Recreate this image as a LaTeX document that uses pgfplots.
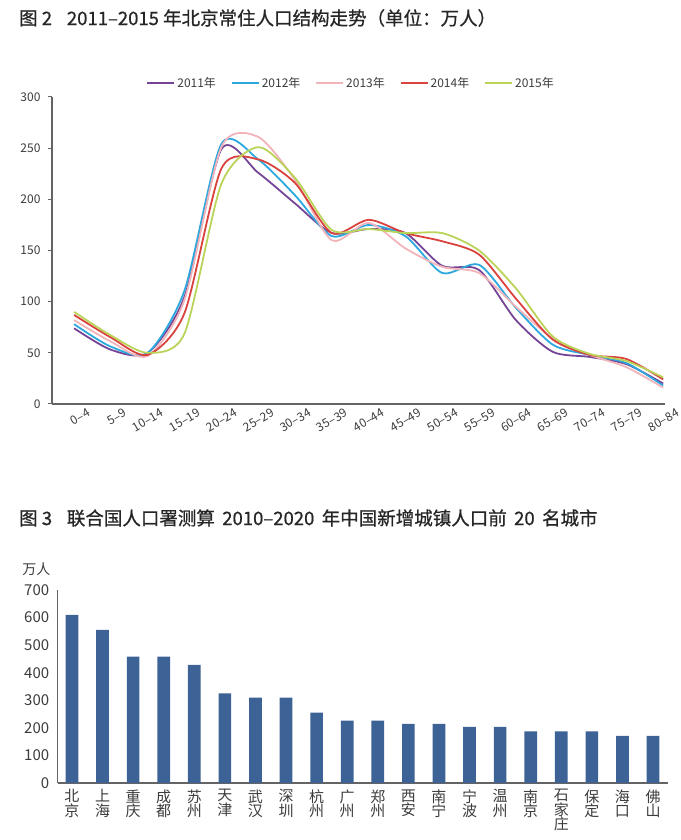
\documentclass[border=0pt]{standalone}
\usepackage{pgfplots}
\pgfplotsset{compat=1.18}
\usepackage{pgfplotstable}
\usepackage{fontspec}
\setmainfont{Noto Sans CJK SC}
\newfontfamily\titlefont[FakeBold=0.7]{Noto Sans CJK SC}

\definecolor{c11}{RGB}{118,68,150}
\definecolor{c12}{RGB}{45,168,222}
\definecolor{c13}{RGB}{240,180,186}
\definecolor{c14}{RGB}{218,66,62}
\definecolor{c15}{RGB}{186,212,90}
\definecolor{barblue}{RGB}{60,98,150}
\definecolor{axisgray}{RGB}{100,100,100}
\definecolor{txt}{RGB}{60,60,60}

% age group index, 2011 ... 2015 (10k persons)
\pgfplotstableread{
x  a   b   c   d   e
0  74  78  82  87  90
1  53  56  61  65  67
2  50  50  47  48  50
3  105 111 102 89  69
4  249 254 251 230 215
5  226 239 261 239 251
6  196 204 219 216 221
7  167 164 160 167 170
8  171 175 177 180 171
9  167 164 152 167 167
10 135 128 134 159 167
11 131 136 128 146 150
12 82  94  95  103 113
13 51  58  64  63  66
14 46  48  48  48  49
15 39  40  36  44  42
16 20  18  16  24  26
}\agedata

\pgfplotstableread{
x  v
0  610
1  555
2  458
3  458
4  428
5  325
6  310
7  310
8  255
9  226
10 226
11 214
12 214
13 204
14 204
15 187
16 187
17 187
18 171
19 171
}\citydata

\begin{document}
\begin{tikzpicture}[x=1pt,y=1pt]
\path (0,0) rectangle (675,840);

\node[anchor=west, inner sep=0pt, font=\fontsize{18.5}{20}\titlefont, text=black!85]
  at (19,822) {图 2\hspace{0.8em}2011–2015 年北京常住人口结构走势（单位：万人）};
\node[anchor=west, inner sep=0pt, font=\fontsize{18.5}{20}\titlefont, text=black!85]
  at (19,322) {图 3\hspace{0.8em}联合国人口署测算\hspace{0.4em}2010–2020\hspace{0.4em}年中国新增城镇人口前\hspace{0.4em}20\hspace{0.4em}名城市};

\begin{axis}[
    at={(52pt,436pt)}, anchor=south west,
    scale only axis, width=613pt, height=307pt,
    xmin=-0.6, xmax=16.05, ymin=0, ymax=300,
    axis x line=bottom, axis y line=left,
    axis line style={-, draw=axisgray, line width=1.2pt},
    xtick={0,...,16},
    xticklabels={0–4,5–9,10–14,15–19,20–24,25–29,30–34,35–39,40–44,45–49,50–54,55–59,60–64,65–69,70–74,75–79,80–84},
    ytick={0,50,...,300},
    tick align=outside, major tick length=4pt,
    xtick style={draw=none},
    ytick style={draw=axisgray, line width=1pt},
    tick label style={font=\fontsize{12}{12}\selectfont, text=txt},
    yticklabel style={xshift=-4pt},
    xticklabel style={rotate=30, anchor=north east, inner sep=0pt, xshift=11pt, yshift=-6pt},
    /pgf/number format/assume math mode=true,
    legend columns=5,
    legend style={at={(axis description cs:0.488,1.046)}, anchor=center, draw=none,
        font=\fontsize{12}{12}\selectfont, text=txt,
        /tikz/every even column/.append style={column sep=13pt}},
    legend image code/.code={\draw[#1] (0pt,0pt) -- (27pt,0pt);},
    every axis plot/.append style={line width=1.8pt, smooth, tension=0.45, no markers},
]
\addplot[c11] table[x=x,y=a] {\agedata}; \addlegendentry{2011年}
\addplot[c12] table[x=x,y=b] {\agedata}; \addlegendentry{2012年}
\addplot[c13] table[x=x,y=c] {\agedata}; \addlegendentry{2013年}
\addplot[c14] table[x=x,y=d] {\agedata}; \addlegendentry{2014年}
\addplot[c15] table[x=x,y=e] {\agedata}; \addlegendentry{2015年}
\end{axis}

\begin{axis}[
    at={(57.7pt,57pt)}, anchor=south west,
    scale only axis, width=610pt, height=193pt,
    xmin=-0.467, xmax=19.48, ymin=0, ymax=700,
    axis x line=bottom, axis y line=left,
    axis line style={-, draw=axisgray, line width=1.2pt},
    xtick={0,...,19},
    xticklabels={{北\\京},{上\\海},{重\\庆},{成\\都},{苏\\州},{天\\津},{武\\汉},{深\\圳},{杭\\州},{广\\州},{郑\\州},{西\\安},{南\\宁},{宁\\波},{温\\州},{南\\京},{石\\家\\庄},{保\\定},{海\\口},{佛\\山}},
    ytick={0,100,...,700},
    major tick length=0pt,
    tick style={draw=none},
    tick label style={font=\fontsize{15}{14.5}\selectfont, text=txt},
    xticklabel style={align=center, yshift=-3pt},
    yticklabel style={xshift=-5pt},
    /pgf/number format/assume math mode=true,
    ylabel={万人}, ylabel style={rotate=-90, at={(axis description cs:-0.035,1.11)}, anchor=center,
        font=\fontsize{14}{14}\selectfont, text=txt},
]
\addplot[ybar, bar width=12.7pt, fill=barblue, draw=none] table[x=x,y=v] {\citydata};
\end{axis}
\end{tikzpicture}
\end{document}
